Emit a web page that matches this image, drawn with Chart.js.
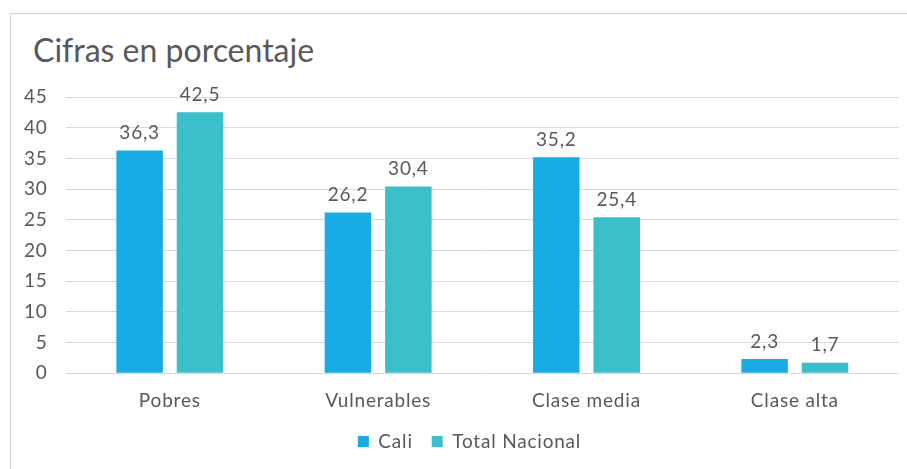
<!DOCTYPE html>
<html>
<head>
<meta charset="utf-8">
<script src="https://cdn.jsdelivr.net/npm/chart.js@4"></script>
<style>
  html, body { margin: 0; padding: 0; background: #fff; }
  #wrap { position: relative; width: 907px; height: 469px; overflow: hidden; }
  #frame {
    position: absolute; left: 10px; top: 13px; width: 920px; height: 480px;
    border-left: 1px solid #d4d4d4; border-top: 1px solid #d4d4d4;
  }
  #title {
    position: absolute; left: 33px; top: 30px;
    font: 32px 'Lato', sans-serif; color: #595959; line-height: 40px;
  }
  canvas { position: absolute; left: 0; top: 0; }
</style>
</head>
<body>
<div id="wrap">
  <div id="frame"></div>
  <div id="title">Cifras en porcentaje</div>
  <canvas id="chart" width="907" height="469"></canvas>
</div>
<script>
const categories = ['Pobres', 'Vulnerables', 'Clase media', 'Clase alta'];
const cali = [36.3, 26.2, 35.2, 2.3];
const totalNacional = [42.5, 30.4, 25.4, 1.7];
const yTicks = [0, 5, 10, 15, 20, 25, 30, 35, 40, 45];

const textColor = '#595959';
const fontFamily = "'Lato', sans-serif";
const spacing = '0.8px';

// the reference text is a bit wider than plain Lato
const wideText = {
    id: 'wideText',
    beforeLayout(chart) { chart.ctx.letterSpacing = spacing; },
    beforeDraw(chart) { chart.ctx.letterSpacing = spacing; }
};

// legend sits a little right of and above where chart.js puts it
const nudgeLegend = {
    id: 'nudgeLegend',
    afterLayout(chart) {
        const lg = chart.legend;
        lg.left += 17; lg.right += 17;
        lg.top -= 7; lg.bottom -= 7;
    }
};

// value labels above bars, comma decimal
const barLabels = {
    id: 'barLabels',
    afterDatasetsDraw(chart) {
        const ctx = chart.ctx;
        ctx.save();
        ctx.font = '19px ' + fontFamily;
        ctx.fillStyle = textColor;
        ctx.textAlign = 'center';
        ctx.textBaseline = 'bottom';
        chart.data.datasets.forEach((ds, i) => {
            chart.getDatasetMeta(i).data.forEach((bar, j) => {
                const txt = ds.data[j].toFixed(1).replace('.', ',');
                ctx.fillText(txt, bar.x, bar.y - 8);
            });
        });
        ctx.restore();
    }
};

new Chart(document.getElementById('chart'), {
    type: 'bar',
    data: {
        labels: categories,
        datasets: [{
            label: 'Cali',
            data: cali,
            backgroundColor: '#19abe3',
            categoryPercentage: 0.58,
            barPercentage: 0.77
        }, {
            label: 'Total Nacional',
            data: totalNacional,
            backgroundColor: '#3bbfca',
            categoryPercentage: 0.58,
            barPercentage: 0.77
        }]
    },
    options: {
        responsive: false,
        animation: false,
        layout: { padding: { left: 6, right: 8, top: 97, bottom: 1 } },
        plugins: {
            title: { display: false },
            legend: {
                position: 'bottom',
                labels: {
                    color: textColor,
                    font: { family: fontFamily, size: 19 },
                    boxWidth: 11,
                    boxHeight: 11,
                    padding: 19
                }
            },
            tooltip: { enabled: false }
        },
        scales: {
            x: {
                grid: { display: false },
                border: { display: false },
                ticks: { color: textColor, font: { family: fontFamily, size: 19 }, padding: 8 }
            },
            y: {
                min: 0,
                max: 45,
                afterBuildTicks: axis => { axis.ticks = yTicks.map(v => ({ value: v })); },
                grid: { color: '#d9d9d9', drawTicks: false },
                border: { display: false },
                ticks: { color: textColor, font: { family: fontFamily, size: 19 }, padding: 18 }
            }
        }
    },
    plugins: [wideText, nudgeLegend, barLabels]
});
</script>
</body>
</html>
